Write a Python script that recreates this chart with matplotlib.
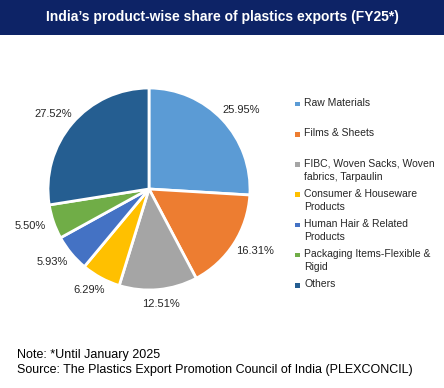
import numpy as np
import matplotlib.pyplot as plt
from matplotlib.patches import Rectangle

plt.rcParams['font.family'] = ['Liberation Sans', 'DejaVu Sans']

# data
categories = ["Raw Materials", "Films & Sheets", "FIBC, Woven Sacks, Woven\nfabrics, Tarpaulin",
              "Consumer & Houseware\nProducts", "Human Hair & Related\nProducts",
              "Packaging Items-Flexible &\nRigid", "Others"]
shares = [25.95, 16.31, 12.51, 6.29, 5.93, 5.50, 27.52]
colors = ["#5B9BD5", "#ED7D31", "#A5A5A5", "#FFC000", "#4472C4", "#70AD47", "#255E91"]

W, H = 444, 388
fig = plt.figure(figsize=(W / 100, H / 100), dpi=100)
fig.patch.set_facecolor("white")

# title bar
fig.patches.append(Rectangle((0, 1 - 35 / H), 1, 35 / H, transform=fig.transFigure,
                             facecolor="#0D2366", edgecolor="none", zorder=0))
fig.text(0.5, 1 - 17 / H, "India\u2019s product-wise share of plastics exports (FY25*)",
         ha="center", va="center", color="white", fontsize=10, fontweight="bold")

# pie
cx, cy, r = 149, 189, 101
ax = fig.add_axes([(cx - r) / W, (H - cy - r) / H, 2 * r / W, 2 * r / H])
wedges, _ = ax.pie(shares, colors=colors, startangle=90, counterclock=False,
                   wedgeprops=dict(edgecolor="white", linewidth=2))

# outside-end labels, Excel style (box just outside the rim)
for w, v in zip(wedges, shares):
    a = np.deg2rad((w.theta1 + w.theta2) / 2)
    ux, uy = np.cos(a), np.sin(a)
    x = 1.08 * ux + 0.168 * ux
    y = 1.08 * uy + 0.06 * uy
    ax.text(x, y, f"{v:.2f}%", ha="center", va="center", fontsize=8, color="#262626")

ax.set_xlim(-1, 1)
ax.set_ylim(-1, 1)
ax.set_aspect("auto")
ax.axis("off")

# legend
for i, (lab, col) in enumerate(zip(categories, colors)):
    y = 104 + i * 30.2
    fig.patches.append(Rectangle((295 / W, 1 - (y + 2.3) / H), 4.6 / W, 4.6 / H,
                                 transform=fig.transFigure, facecolor=col, edgecolor="none"))
    fig.text(304 / W, 1 - (y - 6) / H, lab, ha="left", va="top", fontsize=7.5,
             color="#262626", linespacing=1.4)

# footnotes
fig.text(17 / W, 1 - 355 / H, "Note: *Until January 2025", ha="left", va="center",
         fontsize=9, color="black")
fig.text(17 / W, 1 - 370 / H, "Source: The Plastics Export Promotion Council of India (PLEXCONCIL)",
         ha="left", va="center", fontsize=9, color="black")

fig.savefig("out.png", dpi=100)
